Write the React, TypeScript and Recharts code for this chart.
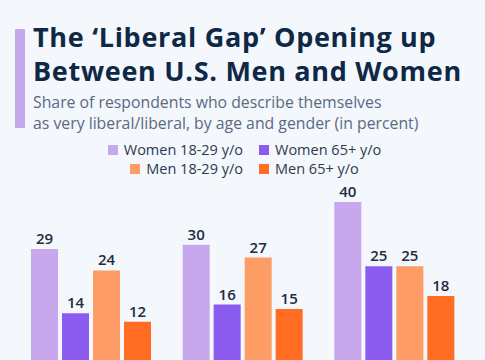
import React from 'react';
import { BarChart, Bar, XAxis, YAxis, LabelList } from 'recharts';

const categories = ['2001-2007', '2008-2016', '2017-2024'];
const women1829 = [29, 30, 40];
const women65 = [14, 16, 25];
const men1829 = [24, 27, 25];
const men65 = [12, 15, 18];

const seriesInfo = [
  { key: 'women1829', name: 'Women 18-29 y/o', color: '#c8a8ec' },
  { key: 'women65', name: 'Women 65+ y/o', color: '#8b5cf0' },
  { key: 'men1829', name: 'Men 18-29 y/o', color: '#fd9c64' },
  { key: 'men65', name: 'Men 65+ y/o', color: '#ff6c22' },
];

const data = categories.map((name, i) => ({
  name,
  women1829: women1829[i],
  women65: women65[i],
  men1829: men1829[i],
  men65: men65[i],
}));

const FONT = '"Open Sans", sans-serif';
const NAVY = '#0f2846';

function LegendItem({ name, color }: { name: string; color: string }) {
  return (
    <div style={{ display: 'flex', alignItems: 'center', height: 19 }}>
      <span style={{ width: 10, height: 10, background: color, marginRight: 6 }} />
      <span>{name}</span>
    </div>
  );
}

export default function App() {
  return (
    <div
      style={{
        position: 'fixed',
        top: 0,
        left: 0,
        width: 485,
        height: 360,
        overflow: 'hidden',
        background: '#f4f7fb',
        fontFamily: FONT,
      }}
    >
      <div style={{ position: 'absolute', left: 15, top: 29, width: 10, height: 99, background: '#c8a8ec' }} />
      <div
        style={{
          position: 'absolute',
          left: 33,
          top: 20,
          fontSize: 27,
          fontWeight: 700,
          letterSpacing: 0.7,
          lineHeight: '34px',
          color: NAVY,
          whiteSpace: 'nowrap',
        }}
      >
        The ‘Liberal Gap’ Opening up
        <br />
        Between U.S. Men and Women
      </div>
      <div
        style={{
          position: 'absolute',
          left: 33,
          top: 92,
          fontSize: 15.8,
          lineHeight: '21px',
          color: '#5a6a82',
          whiteSpace: 'nowrap',
        }}
      >
        Share of respondents who describe themselves
        <br />
        as very liberal/liberal, by age and gender (in percent)
      </div>
      <div
        style={{
          position: 'absolute',
          top: 140,
          left: 0,
          width: 485,
          display: 'flex',
          fontSize: 14.5,
          color: '#2c3a52',
        }}
      >
        <div style={{ width: 243, display: 'flex', flexDirection: 'column', alignItems: 'flex-end' }}>
          <LegendItem name={seriesInfo[0].name} color={seriesInfo[0].color} />
          <LegendItem name={seriesInfo[2].name} color={seriesInfo[2].color} />
        </div>
        <div style={{ marginLeft: 16, display: 'flex', flexDirection: 'column', alignItems: 'flex-start' }}>
          <LegendItem name={seriesInfo[1].name} color={seriesInfo[1].color} />
          <LegendItem name={seriesInfo[3].name} color={seriesInfo[3].color} />
        </div>
      </div>
      <div style={{ position: 'absolute', top: 0, left: 0 }}>
        <BarChart
          width={485}
          height={400}
          data={data}
          margin={{ top: 202, right: 15, bottom: 27, left: 15 }}
          barGap={4}
          barCategoryGap={16}
        >
          <XAxis dataKey="name" hide />
          <YAxis hide domain={[0, 40]} />
          {seriesInfo.map((s) => (
            <Bar key={s.key} dataKey={s.key} name={s.name} fill={s.color} isAnimationActive={false}>
              <LabelList
                dataKey={s.key}
                position="top"
                offset={5}
                style={{ fill: '#1e2c44', fontSize: 15, fontWeight: 600, fontFamily: FONT }}
              />
            </Bar>
          ))}
        </BarChart>
      </div>
    </div>
  );
}
